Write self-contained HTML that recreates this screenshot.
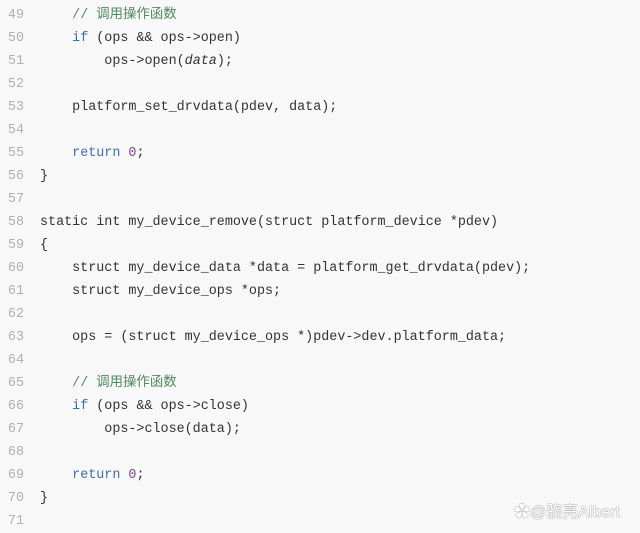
<!DOCTYPE html>
<html><head><meta charset="utf-8"><style>
html,body{margin:0;padding:0;background:#f8f8f8;width:640px;height:528px;overflow:hidden}
.c{position:absolute;left:0;top:4px;font-family:"Liberation Mono","Noto Sans CJK SC",monospace;font-size:13.4px;line-height:23px;color:#333;white-space:pre}
.n{display:inline-block;width:24px;text-align:right;color:#b0b0b0;margin-right:16px}
.k{color:#3b6fb6}.m{color:#4f8a5c}.d{color:#8a3fa0}.i{font-style:italic}
.w{position:absolute;left:514px;top:498px;font-family:"Liberation Sans","Noto Sans CJK SC",sans-serif;font-size:16px;color:#fff;text-shadow:0 0 1px #888,0 0 1px #888}
</style></head><body>
<div class="c"><span class="n">49</span>    <span class="m">// 调用操作函数</span>
<span class="n">50</span>    <span class="k">if</span> (ops &amp;&amp; ops-&gt;open)
<span class="n">51</span>        ops-&gt;open(<span class="i">data</span>);
<span class="n">52</span>
<span class="n">53</span>    platform_set_drvdata(pdev, data);
<span class="n">54</span>
<span class="n">55</span>    <span class="k">return</span> <span class="d">0</span>;
<span class="n">56</span>}
<span class="n">57</span>
<span class="n">58</span>static int my_device_remove(struct platform_device *pdev)
<span class="n">59</span>{
<span class="n">60</span>    struct my_device_data *data = platform_get_drvdata(pdev);
<span class="n">61</span>    struct my_device_ops *ops;
<span class="n">62</span>
<span class="n">63</span>    ops = (struct my_device_ops *)pdev-&gt;dev.platform_data;
<span class="n">64</span>
<span class="n">65</span>    <span class="m">// 调用操作函数</span>
<span class="n">66</span>    <span class="k">if</span> (ops &amp;&amp; ops-&gt;close)
<span class="n">67</span>        ops-&gt;close(data);
<span class="n">68</span>
<span class="n">69</span>    <span class="k">return</span> <span class="d">0</span>;
<span class="n">70</span>}
<span class="n">71</span></div>
<div class="w">✿@骁亮Albert</div>
</body></html>
